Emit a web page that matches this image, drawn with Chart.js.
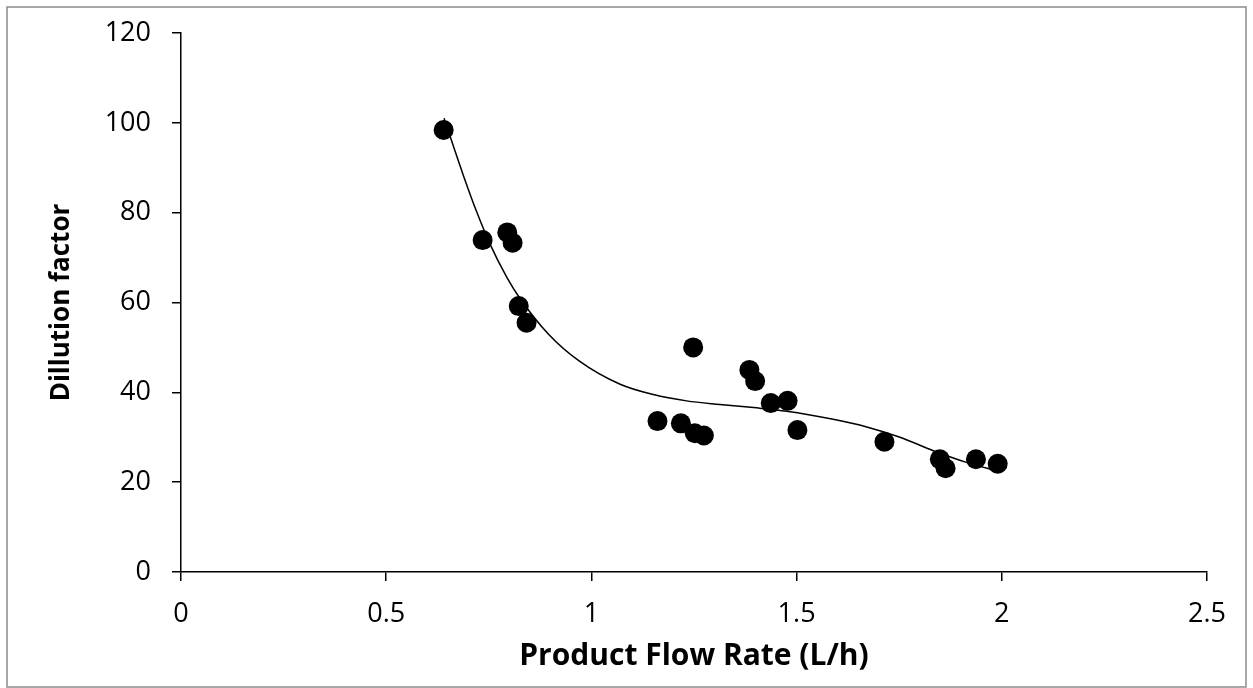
<!DOCTYPE html>
<html>
<head>
<meta charset="utf-8">
<script src="https://cdn.jsdelivr.net/npm/chart.js@4/dist/chart.umd.min.js"></script>
<style>
  html, body { margin: 0; padding: 0; background: #fff; }
  #wrap { width: 1253px; height: 688px; }
</style>
</head>
<body>
<div id="wrap"><canvas id="chart"></canvas></div>
<script>
// measured points
var flowRate = [0.640, 0.735, 0.795, 0.808, 0.823, 0.842, 1.161, 1.218, 1.248, 1.252, 1.274,
                1.385, 1.399, 1.437, 1.478, 1.502, 1.714, 1.849, 1.863, 1.937, 1.990];
var dilution = [98.4, 73.9, 75.6, 73.3, 59.2, 55.5, 33.6, 33.1, 50.0, 30.9, 30.4,
                45.0, 42.5, 37.6, 38.1, 31.6, 29.0, 25.1, 23.1, 25.1, 24.1];

// trendline
var trendX = [0.641, 0.663, 0.688, 0.720, 0.753, 0.794, 0.826, 0.895, 0.970, 1.070, 1.151,
              1.232, 1.313, 1.395, 1.476, 1.589, 1.671, 1.752, 1.833, 1.914, 1.996];
var trendY = [101.0, 95.0, 88.3, 80.3, 73.0, 65.6, 60.9, 53.0, 47.0, 41.8, 39.5,
              38.1, 37.3, 36.6, 35.8, 34.0, 32.3, 30.0, 27.0, 24.4, 22.3];

var xTicks = [0, 0.5, 1, 1.5, 2, 2.5];
var yTicks = [0, 20, 40, 60, 80, 100, 120];

function pairs(xs, ys) {
  return xs.map(function (x, i) { return { x: x, y: ys[i] }; });
}

// gray frame round the whole chart
var frame = {
  id: 'frame',
  beforeDraw: function (chart) {
    var ctx = chart.ctx;
    ctx.save();
    ctx.fillStyle = '#fff';
    ctx.fillRect(0, 0, chart.width, chart.height);
    ctx.strokeStyle = '#8c8c8c';
    ctx.lineWidth = 1.5;
    ctx.strokeRect(7, 7, chart.width - 14, chart.height - 8);
    ctx.restore();
  }
};

var tickFont = { family: 'Open Sans', size: 27 };

new Chart(document.getElementById('chart'), {
  type: 'scatter',
  data: {
    datasets: [
      {
        label: 'Trend',
        data: pairs(trendX, trendY),
        showLine: true,
        borderColor: '#000',
        borderWidth: 1.5,
        pointRadius: 0,
        cubicInterpolationMode: 'monotone',
        order: 2
      },
      {
        label: 'Dilution',
        data: pairs(flowRate, dilution),
        backgroundColor: '#000',
        borderWidth: 0,
        pointRadius: 10,
        order: 1
      }
    ]
  },
  options: {
    responsive: true,
    maintainAspectRatio: false,
    animation: false,
    layout: { autoPadding: false, padding: { left: 0, top: 33, right: 46, bottom: 0 } },
    plugins: { legend: { display: false }, tooltip: { enabled: false } },
    scales: {
      x: {
        type: 'linear',
        min: 0,
        max: 2.5,
        afterBuildTicks: function (s) { s.ticks = xTicks.map(function (v) { return { value: v }; }); },
        afterFit: function (s) { s.height = 116; s.paddingLeft = 0; s.paddingRight = 0; },
        grid: { drawOnChartArea: false, color: '#000', lineWidth: 1.5, tickLength: 9 },
        border: { color: '#000', width: 1.5 },
        ticks: { color: '#000', font: tickFont, padding: 17, maxRotation: 0,
                 callback: function (v) { return String(v); } },
        title: { display: true, text: 'Product Flow Rate (L/h)', color: '#000',
                 font: { family: 'Open Sans', size: 30, weight: 'bold' },
                 padding: { top: 0, bottom: 14 } }
      },
      y: {
        type: 'linear',
        min: 0,
        max: 120,
        afterBuildTicks: function (s) { s.ticks = yTicks.map(function (v) { return { value: v }; }); },
        afterFit: function (s) { s.width = 181; s.paddingTop = 0; s.paddingBottom = 0; },
        grid: { drawOnChartArea: false, color: '#000', lineWidth: 1.5, tickLength: 9 },
        border: { color: '#000', width: 1.5 },
        ticks: { color: '#000', font: tickFont, padding: 21,
                 callback: function (v) { return String(v); } },
        title: { display: true, text: 'Dillution factor', color: '#000',
                 font: { family: 'Open Sans', size: 26, weight: 'bold' },
                 padding: { top: 46, bottom: 0 } }
      }
    }
  },
  plugins: [frame]
});
</script>
</body>
</html>
